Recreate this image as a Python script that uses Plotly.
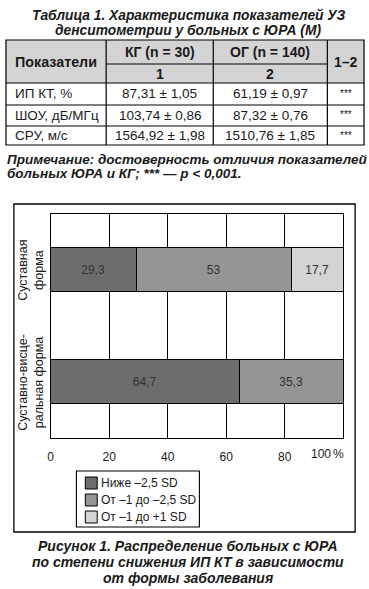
import plotly.graph_objects as go

W, H = 369, 589

# ---------------- data ----------------
categories = ["Суставная<br>форма", "Суставно-висце-<br>ральная форма"]
series_names = ["Ниже –2,5 SD", "От –1 до –2,5 SD", "От –1 до +1 SD"]
below_25 = [29.3, 64.7]
from_1_to_25 = [53, 35.3]
from_m1_to_p1 = [17.7, None]
x_ticks = [0, 20, 40, 60, 80, 100]

table_params = ["ИП КТ, %", "ШОУ, дБ/МГц", "СРУ, м/с"]
kg_mean = [87.31, 103.74, 1564.92]
kg_sd = [1.05, 0.86, 1.98]
og_mean = [61.19, 87.32, 1510.76]
og_sd = [0.97, 0.76, 1.85]
significance = ["***", "***", "***"]

colors = ["#6d6d6d", "#959595", "#d4d4d4"]
FONT = "Liberation Sans, Arial, sans-serif"


def fx(x):
    return x / W


def fy(y):
    return 1 - y / H


def ru(v):
    if v is None:
        return ""
    s = ("%g" % v)
    return s.replace(".", ",")


def pm(m, s):
    return f"{m:.2f}".replace(".", ",") + " ± " + f"{s:.2f}".replace(".", ",")


fig = go.Figure()
for name, vals, col in zip(series_names, [below_25, from_1_to_25, from_m1_to_p1], colors):
    fig.add_trace(go.Bar(
        y=[0, 1], x=vals, name=name, orientation="h",
        marker=dict(color=col, line=dict(color="black", width=1)),
        width=0.4,
        text=[ru(v) for v in vals], textposition="inside",
        insidetextanchor="middle", textangle=0,
        textfont=dict(family=FONT, size=12, color="#333333"),
        hoverinfo="skip", showlegend=False,
    ))

shapes = []
annotations = []


def line(x0, y0, x1, y1, w=1.2):
    shapes.append(dict(type="line", xref="paper", yref="paper",
                       x0=fx(x0), y0=fy(y0), x1=fx(x1), y1=fy(y1),
                       line=dict(color="black", width=w)))


def rect(x0, y0, x1, y1, fill=None, w=1.2, layer="below"):
    shapes.append(dict(type="rect", xref="paper", yref="paper",
                       x0=fx(x0), y0=fy(y0), x1=fx(x1), y1=fy(y1),
                       fillcolor=fill if fill else "rgba(0,0,0,0)",
                       line=dict(color="black", width=w), layer=layer))


def text(x, y, t, size=12.5, anchor="center", bold=False, italic=False, color="#1a1a1a"):
    if italic:
        t = f"<i>{t}</i>"
    if bold:
        t = f"<b>{t}</b>"
    annotations.append(dict(xref="paper", yref="paper", x=fx(x), y=fy(y), text=t,
                            showarrow=False, xanchor=anchor, yanchor="middle",
                            font=dict(family=FONT, size=size, color=color)))


# ---------------- title ----------------
text(187, 15, "Таблица 1. Характеристика показателей УЗ", size=13.8, bold=True, italic=True)
text(187, 31, "денситометрии у больных с ЮРА (M)", size=13.8, bold=True, italic=True)

# ---------------- table ----------------
TL, TR, TT, TB = 3, 364, 40, 145
c1, c2, c3 = 104, 212, 327
rect(TL, TT, TR, 83, fill="#d4d4d4", w=0)
rect(TL, TT, TR, TB)
line(c1, TT, c1, TB)
line(c2, TT, c2, TB)
line(c3, TT, c3, TB)
line(c1, 64, c3, 64)
line(TL, 83, TR, 83)
line(TL, 105, TR, 105)
line(TL, 126, TR, 126)

text((TL + c1) / 2, 62, "Показатели", size=14.3, bold=True)
text((c1 + c2) / 2, 52, "КГ (n = 30)", size=14, bold=True)
text((c2 + c3) / 2, 52, "ОГ (n = 140)", size=14, bold=True)
text((c1 + c2) / 2, 74, "1", size=14, bold=True)
text((c2 + c3) / 2, 74, "2", size=14, bold=True)
text((c3 + TR) / 2, 62, "1–2", size=14, bold=True)
row_y = [94, 116, 136]
for i, ry in enumerate(row_y):
    text(10, ry, table_params[i], size=13.5, anchor="left")
    text((c1 + c2) / 2, ry, pm(kg_mean[i], kg_sd[i]), size=13.5)
    text((c2 + c3) / 2, ry, pm(og_mean[i], og_sd[i]), size=13.5)
    text((c3 + TR) / 2, ry - 1, significance[i], size=10)

text(2, 159, "Примечание: достоверность отличия показателей", size=13.5, anchor="left", bold=True, italic=True)
text(2, 173, "больных ЮРА и КГ; *** — p &lt; 0,001.", size=13.5, anchor="left", bold=True, italic=True)

# ---------------- chart frame ----------------
rect(11, 204, 355, 532, w=1.3)

# category labels (rotated)
for i, cat in enumerate(categories):
    annotations.append(dict(xref="paper", yref="y", x=fx(28), y=i, text=cat,
                            textangle=-90, showarrow=False, xanchor="center", yanchor="middle",
                            font=dict(family=FONT, size=12.5, color="#1a1a1a")))

# "100 %" tick label
annotations.append(dict(xref="x", yref="paper", x=100, y=fy(454), text="100", showarrow=False,
                        xanchor="right", yanchor="middle", xshift=-10,
                        font=dict(family=FONT, size=12, color="#1a1a1a")))
annotations.append(dict(xref="x", yref="paper", x=100, y=fy(454), text="%", showarrow=False,
                        xanchor="right", yanchor="middle", xshift=3,
                        font=dict(family=FONT, size=12, color="#1a1a1a")))

# ---------------- legend (drawn) ----------------
rect(74, 471, 198, 527, fill="white", w=1.1, layer="above")
leg_y = [483, 500, 517]
for name, col, ly in zip(series_names, colors, leg_y):
    rect(83, ly - 6, 95, ly + 6, fill=col, w=1, layer="above")
    text(97, ly, name, size=12, anchor="left")

# ---------------- caption ----------------
text(187, 546, "Рисунок 1. Распределение больных с ЮРА", size=14, bold=True, italic=True)
text(187, 562, "по степени снижения ИП КТ в зависимости", size=14, bold=True, italic=True)
text(187, 578, "от формы заболевания", size=14, bold=True, italic=True)

fig.update_layout(
    width=W, height=H, margin=dict(l=0, r=0, t=0, b=0),
    paper_bgcolor="white", plot_bgcolor="white",
    barmode="stack", bargap=0,
    font=dict(family=FONT, size=12, color="#1a1a1a"),
    xaxis=dict(domain=[fx(48), fx(343)], range=[0, 100], tickvals=x_ticks,
               ticktext=[str(t) for t in x_ticks[:-1]] + [""],
               showgrid=True, gridcolor="black", gridwidth=1,
               showline=True, linecolor="black", linewidth=1.2, mirror=True,
               zeroline=False, ticks="", ticklabelstandoff=7,
               tickfont=dict(family=FONT, size=12, color="#1a1a1a")),
    yaxis=dict(domain=[fy(438), fy(214)], range=[1.5, -0.5], showgrid=False,
               tickvals=[0, 1], showticklabels=False, ticks="",
               showline=True, linecolor="black", linewidth=1.2, mirror=True, zeroline=False),
    showlegend=False,
    shapes=shapes, annotations=annotations,
)

fig.write_html("out.html", config={"displayModeBar": False},
               post_script="document.body.style.margin='0';document.body.style.padding='0';")
